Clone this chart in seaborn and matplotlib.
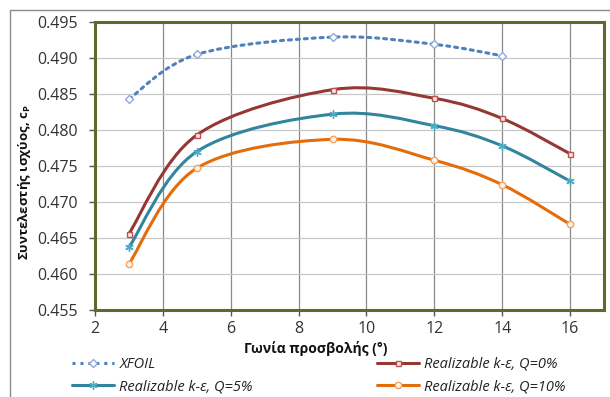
import numpy as np
import pandas as pd
import matplotlib
matplotlib.use("Agg")
import matplotlib.pyplot as plt
import seaborn as sns
from matplotlib.path import Path
from matplotlib.patches import PathPatch, Rectangle
from matplotlib.lines import Line2D

# data
angle_xfoil = [3, 5, 9, 12, 14]
cp_xfoil = [0.4843, 0.4905, 0.4929, 0.4919, 0.4903]

angle_cfd = [3, 5, 9, 12, 14, 16]
cp_q0 = [0.4656, 0.4793, 0.4856, 0.4844, 0.4816, 0.4767]
cp_q5 = [0.4637, 0.4770, 0.4822, 0.4806, 0.4778, 0.4729]
cp_q10 = [0.4614, 0.4747, 0.4787, 0.4758, 0.4724, 0.4669]

x_ticks = [2, 4, 6, 8, 10, 12, 14, 16]
y_ticks = [0.455, 0.460, 0.465, 0.470, 0.475, 0.480, 0.485, 0.490, 0.495]

sns.set_theme(style="white")
plt.rcParams["font.family"] = ["Open Sans", "DejaVu Sans"]

W, H = 610, 397
fig = plt.figure(figsize=(6.1, 3.97), dpi=100)
ax = fig.add_axes([95 / W, 1 - 310 / H, 509 / W, 288 / H])

# outer chart frame
fig.patches.append(Rectangle((10 / W, -0.1), 1.2, 1 - 10 / H + 0.1,
                             transform=fig.transFigure, fill=False,
                             edgecolor="#8c8c8c", linewidth=1.0, zorder=0))


def smooth_path(xs, ys):
    # excel-style smoothed line as cubic bezier segments
    p = np.column_stack([xs, ys]).astype(float)
    pp = np.vstack([p[0], p, p[-1]])
    verts = [p[0]]
    codes = [Path.MOVETO]
    for i in range(len(p) - 1):
        a, b, c, d = pp[i], pp[i + 1], pp[i + 2], pp[i + 3]
        verts += [b + (c - a) / 6, c - (d - b) / 6, c]
        codes += [Path.CURVE4] * 3
    return Path(verts, codes)


star = (6, 2, 0)
series = [
    ("XFOIL", angle_xfoil, cp_xfoil, "#4F81BD", (0, (1, 1.6)), "D", "#8EAADB", "white", 4.0),
    ("Realizable k-ε, Q=0%", angle_cfd, cp_q0, "#953735", "-", "s", "#C0504D", "#FBEAEA", 3.6),
    ("Realizable k-ε, Q=5%", angle_cfd, cp_q5, "#31859C", "-", star, "#4BACC6", "#4BACC6", 6.0),
    ("Realizable k-ε, Q=10%", angle_cfd, cp_q10, "#E46C0A", "-", "o", "#F5A35C", "#FFF3E8", 4.6),
]

handles = {}
for name, xs, ys, col, ls, mk, mec, mfc, ms in series:
    ax.add_patch(PathPatch(smooth_path(xs, ys), facecolor="none", edgecolor=col,
                           linewidth=2.2, linestyle=ls, capstyle="round", zorder=3))
    df = pd.DataFrame({"x": xs, "y": ys})
    sns.lineplot(data=df, x="x", y="y", ax=ax, linestyle="", marker=mk,
                 markersize=ms, markeredgecolor=mec, markerfacecolor=mfc,
                 markeredgewidth=1.0, zorder=4)
    handles[name] = Line2D([], [], color=col, linestyle=ls, linewidth=2.2,
                           marker=mk, markersize=ms, markeredgecolor=mec,
                           markerfacecolor=mfc, markeredgewidth=1.0)

ax.set_xlim(2, 17)
ax.set_ylim(0.455, 0.495)
ax.set_xticks(x_ticks)
ax.set_yticks(y_ticks)
ax.set_yticklabels([f"{v:.3f}" for v in y_ticks])
ax.tick_params(axis="both", labelsize=11.5, length=4, width=1, color="#555555",
               direction="out", bottom=True, left=True)
ax.tick_params(axis="y", pad=8)
ax.tick_params(axis="x", pad=4)
for lab in ax.get_xticklabels() + ax.get_yticklabels():
    lab.set_color("#333333")

ax.grid(True, axis="x", color="#8a8a8a", linewidth=0.9)
ax.grid(True, axis="y", color="#c8c8c8", linewidth=0.9)
ax.set_axisbelow(True)
for sp in ax.spines.values():
    sp.set_color("#5A6B2B")
    sp.set_linewidth(2.2)

ax.set_xlabel("Γωνία προσβολής (°)", fontsize=10, fontweight="bold", color="#111111")
ax.set_ylabel("Συντελεστής ισχύος, c$_{\\mathregular{P}}$", fontsize=9.5, fontweight="bold",
              color="#111111")
ax.xaxis.set_label_coords((316 - 95) / 509, -(341 - 310) / 288)
ax.yaxis.set_label_coords(-(95 - 33) / 509, (310 - 182) / 288)

# legend in two columns below the plot
legend_cols = [(["XFOIL", "Realizable k-ε, Q=5%"], 72),
               (["Realizable k-ε, Q=0%", "Realizable k-ε, Q=10%"], 377)]
for names, x0 in legend_cols:
    leg = fig.legend([handles[k] for k in names], names, loc="upper left",
                     bbox_to_anchor=(x0 / W, 1 - 357 / H), frameon=False,
                     borderpad=0, borderaxespad=0, handlelength=2.9,
                     handletextpad=0.35, labelspacing=0.5,
                     prop={"size": 10.5, "style": "italic"})
    for t in leg.get_texts():
        t.set_color("#222222")

fig.savefig("out.png", dpi=100)
